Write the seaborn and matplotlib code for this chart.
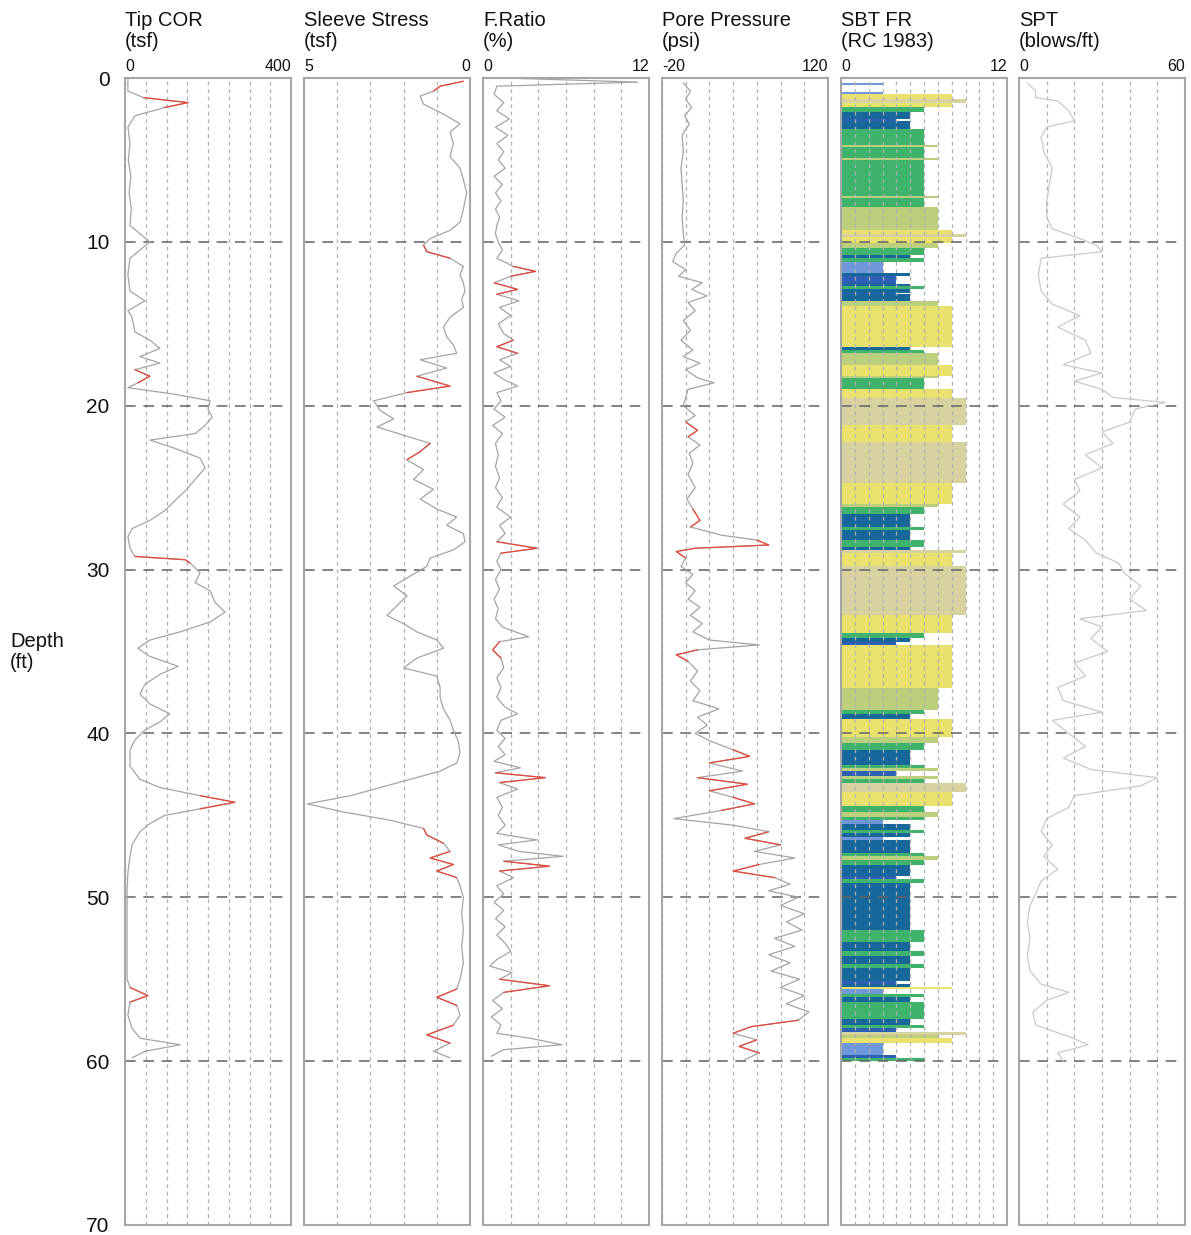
"""
CPT log: tip resistance, sleeve stress, friction ratio, pore pressure,
soil behaviour type (Robertson & Campanella 1983) and equivalent SPT N.
"""

import numpy as np
import pandas as pd
import matplotlib
matplotlib.use("Agg")
import matplotlib.pyplot as plt
import seaborn as sns

# ── Data (depth in ft) ────────────────────────────────────────────────────────
tip_depth = [0.0, 0.8, 1.2, 1.5, 1.8, 2.3, 3.0, 4.0, 5.0, 6.0, 7.0, 8.0, 9.0, 9.5,
             10.0, 10.5, 11.0, 12.0, 13.0, 13.6, 14.2, 14.6, 15.5, 16.0, 16.5, 17.0,
             17.4, 17.8, 18.2, 18.6, 18.9, 19.3, 19.7, 20.2, 20.7, 21.2, 21.7, 22.1,
             22.6, 23.2, 23.8, 24.5, 25.2, 25.8, 26.4, 27.0, 27.5, 28.0, 28.7, 29.2,
             29.4, 29.6, 30.2, 30.8, 31.3, 32.0, 32.6, 33.2, 33.8, 34.3, 34.8, 35.3,
             35.9, 36.4, 37.0, 37.6, 38.2, 38.8, 39.3, 39.8, 40.4, 41.0, 42.0, 42.8,
             43.3, 43.8, 44.2, 44.6, 45.0, 45.5, 46.0, 46.8, 47.5, 48.5, 49.5, 51.0,
             52.5, 54.0, 55.0, 55.5, 56.0, 56.4, 57.2, 58.0, 58.6, 59.0, 59.4, 59.8]
tip_q = [7, 7, 45, 152, 96, 24, 7, 12, 8, 14, 10, 15, 12, 36,
         60, 36, 12, 7, 12, 48, 7, 17, 24, 60, 84, 36,
         84, 24, 60, 31, 7, 120, 205, 200, 210, 193, 169, 60,
         120, 181, 193, 169, 145, 120, 96, 60, 17, 7, 12, 24,
         145, 157, 181, 169, 205, 217, 241, 205, 133, 60, 31, 60,
         128, 84, 48, 36, 60, 108, 84, 48, 24, 12, 12, 36,
         84, 181, 265, 181, 96, 60, 36, 17, 12, 7, 5, 5,
         5, 5, 5, 12, 55, 12, 7, 17, 36, 133, 48, 17]

fs_depth = [0.2, 0.5, 0.8, 1.1, 1.6, 2.2, 2.8, 3.3, 4.0, 4.8, 5.5, 6.2, 7.0, 8.0,
            8.8, 9.3, 9.8, 10.2, 10.6, 11.0, 11.5, 12.0, 12.5, 13.0, 13.5, 14.0,
            14.6, 15.2, 15.8, 16.3, 16.8, 17.2, 17.7, 18.2, 18.8, 19.2, 19.7, 20.3,
            20.8, 21.3, 21.8, 22.3, 22.8, 23.3, 23.9, 24.5, 25.1, 25.7, 26.3, 26.8,
            27.3, 27.8, 28.3, 28.8, 29.3, 29.8, 30.4, 31.0, 31.6, 32.2, 32.8, 33.3,
            33.8, 34.3, 34.8, 35.4, 36.0, 36.5, 37.2, 37.8, 38.5, 39.2, 39.8, 40.5,
            41.2, 41.8, 42.3, 42.8, 43.3, 43.8, 44.3, 44.8, 45.3, 45.8, 46.2, 46.7,
            47.2, 47.6, 48.0, 48.4, 48.8, 49.3, 50.0, 51.0, 52.0, 53.0, 54.0, 55.0,
            55.6, 56.1, 56.6, 57.2, 57.8, 58.4, 58.9, 59.4, 59.8]
fs_tsf = [0.2, 0.9, 1.1, 1.5, 1.4, 0.8, 0.3, 0.6, 0.5, 0.6, 0.3, 0.2, 0.1, 0.2,
          0.3, 0.6, 1.2, 1.4, 1.3, 0.6, 0.2, 0.3, 0.2, 0.15, 0.25, 0.2,
          0.6, 0.8, 0.7, 0.5, 0.4, 1.5, 0.7, 1.6, 0.6, 1.9, 2.9, 2.7,
          2.3, 2.8, 2.0, 1.2, 1.5, 1.9, 1.4, 1.7, 1.1, 1.5, 1.0, 0.4,
          0.7, 0.2, 0.15, 0.5, 1.2, 1.3, 1.8, 2.3, 1.9, 2.2, 2.5, 2.0,
          1.6, 1.0, 0.8, 1.6, 2.0, 1.0, 0.9, 0.9, 0.8, 0.6, 0.5, 0.35,
          0.3, 0.4, 0.9, 1.8, 2.7, 3.6, 4.9, 3.8, 2.4, 1.4, 1.3, 0.8,
          0.6, 1.2, 0.5, 1.0, 0.4, 0.3, 0.2, 0.25, 0.2, 0.25, 0.2, 0.3,
          0.4, 1.0, 0.4, 0.3, 0.5, 1.3, 0.6, 1.1, 0.6]

fr_depth = [0.0, 0.25, 0.5, 1.0, 1.5, 2.0, 2.5, 3.0, 3.5, 4.0, 4.5, 5.0, 5.5, 6.0,
            6.5, 7.0, 7.5, 8.0, 8.5, 9.0, 9.5, 10.0, 10.5, 11.0, 11.5, 11.8, 12.1,
            12.5, 12.9, 13.2, 13.6, 14.0, 14.5, 15.0, 15.6, 16.0, 16.4, 16.8, 17.2,
            17.6, 18.0, 18.4, 18.8, 19.2, 19.7, 20.2, 20.7, 21.2, 21.7, 22.3, 23.0,
            23.7, 24.4, 25.0, 25.6, 26.2, 26.8, 27.3, 27.8, 28.3, 28.7, 29.0, 29.5,
            30.0, 30.6, 31.2, 31.8, 32.4, 33.0, 33.5, 34.1, 34.4, 34.9, 35.4, 36.0,
            36.6, 37.2, 37.8, 38.4, 38.8, 39.2, 39.8, 40.3, 40.8, 41.3, 41.7, 42.1,
            42.4, 42.7, 43.0, 43.4, 43.9, 44.5, 45.0, 45.6, 46.1, 46.5, 46.8, 47.2,
            47.5, 47.8, 48.1, 48.4, 48.8, 49.3, 49.8, 50.3, 50.8, 51.3, 51.8, 52.3,
            52.8, 53.3, 53.8, 54.2, 54.6, 55.0, 55.4, 55.8, 56.3, 56.8, 57.3, 57.8,
            58.3, 58.6, 59.0, 59.3, 59.7]
fr_pct = [1.5, 11.2, 1.0, 0.8, 1.5, 1.0, 1.9, 0.9, 1.8, 1.0, 1.5, 1.1, 1.6, 0.8,
          1.4, 0.9, 1.3, 0.9, 1.2, 1.0, 0.9, 1.1, 1.4, 1.0, 2.2, 3.8, 2.0,
          0.8, 2.5, 1.0, 2.6, 1.2, 2.0, 1.1, 1.5, 2.2, 1.0, 2.5, 1.2,
          2.0, 0.8, 1.5, 2.5, 1.0, 1.3, 0.8, 1.6, 0.7, 1.4, 0.9, 1.1,
          0.9, 1.2, 0.9, 1.4, 1.0, 2.0, 1.2, 1.6, 1.0, 3.9, 1.3, 1.0,
          1.3, 0.9, 1.2, 0.8, 1.1, 0.9, 1.4, 3.3, 1.2, 0.7, 1.3, 1.5,
          1.0, 1.3, 1.0, 1.6, 2.5, 1.3, 1.0, 1.6, 1.1, 1.6, 0.8, 2.7,
          0.9, 4.5, 1.2, 2.5, 1.0, 1.4, 1.1, 1.6, 1.0, 3.9, 1.1, 2.6,
          5.8, 1.5, 4.8, 1.2, 2.2, 1.0, 1.5, 0.8, 1.5, 0.9, 1.6, 1.0,
          1.6, 2.0, 1.0, 0.5, 2.1, 1.2, 4.8, 1.5, 0.7, 1.4, 0.6, 1.3,
          1.0, 3.4, 5.7, 1.5, 0.6]

u_depth = [0.3, 0.8, 1.3, 1.8, 2.3, 2.8, 3.5, 4.5, 5.5, 6.5, 7.5, 8.5, 9.5, 10.2,
           10.7, 11.2, 11.7, 12.1, 12.5, 12.9, 13.3, 13.7, 14.2, 14.8, 15.4, 16.0,
           16.6, 17.0, 17.4, 17.8, 18.3, 18.6, 19.0, 19.5, 20.0, 20.6, 21.0, 21.5,
           21.9, 22.4, 22.9, 23.5, 24.2, 25.0, 25.7, 26.3, 27.0, 27.4, 27.9, 28.2,
           28.5, 28.7, 28.9, 29.3, 29.8, 30.3, 30.8, 31.3, 31.8, 32.3, 32.8, 33.3,
           33.8, 34.3, 34.6, 34.9, 35.2, 35.6, 36.2, 36.8, 37.4, 38.0, 38.5, 39.0,
           39.5, 40.0, 40.5, 41.0, 41.4, 41.8, 42.3, 42.7, 43.1, 43.5, 43.9, 44.3,
           44.7, 45.2, 45.6, 46.0, 46.4, 46.8, 47.2, 47.6, 48.0, 48.4, 48.8, 49.2,
           49.6, 50.0, 50.5, 51.0, 51.5, 52.0, 52.5, 53.0, 53.5, 54.0, 54.5, 55.0,
           55.5, 56.0, 56.5, 57.0, 57.5, 57.9, 58.3, 58.7, 59.1, 59.5, 59.9]
u_psi = [-2, 4, 0, 5, -1, 3, -3, -2, -4, -3, -2, -3, -2, -1,
         -8, -11, 0, -6, 14, 5, 18, 2, 8, -2, 4, -4,
         6, -2, 12, 0, 10, 24, 2, 0, -2, 8, 0, 10,
         2, 12, 3, 6, 2, 8, 1, 6, 12, 4, 30, 60,
         70, 8, -8, 0, -4, 6, 0, 8, 2, 12, 4, 14,
         6, 20, 62, 10, -8, 2, 10, 4, 12, 6, 28, 10,
         18, 8, 22, 40, 54, 20, 48, 10, 52, 20, 40, 58,
         30, -10, 40, 70, 50, 80, 58, 92, 62, 40, 75, 88,
         70, 95, 80, 100, 85, 98, 75, 92, 70, 88, 72, 96,
         80, 100, 85, 104, 95, 55, 40, 60, 45, 62, 50]

spt_depth = [0.3, 0.8, 1.2, 1.4, 2.0, 2.6, 3.0, 3.6, 4.5, 5.5, 6.5, 7.5, 8.5, 9.2,
             9.8, 10.2, 10.6, 11.0, 12.0, 13.0, 13.8, 14.5, 15.2, 16.0, 16.8, 17.5,
             18.0, 18.5, 19.0, 19.5, 19.8, 20.2, 21.0, 21.6, 22.3, 23.0, 23.8, 24.5,
             25.2, 26.0, 26.8, 27.5, 28.2, 29.0, 29.6, 30.2, 31.0, 31.8, 32.5, 33.0,
             33.5, 34.2, 35.0, 35.7, 36.5, 37.2, 38.0, 38.7, 39.2, 40.0, 40.8, 41.5,
             42.2, 42.7, 43.2, 43.8, 44.5, 45.2, 46.0, 46.8, 47.5, 48.3, 49.0, 49.8,
             50.5, 51.5, 52.5, 53.5, 54.5, 55.3, 55.8, 56.3, 57.0, 57.8, 58.5, 59.0,
             59.5, 60.0]
spt_n = [3, 6, 6, 14, 18, 20, 10, 8, 9, 12, 11, 10, 10, 12,
         22, 28, 30, 8, 7, 8, 12, 22, 14, 24, 26, 16,
         30, 20, 30, 34, 53, 42, 40, 30, 34, 24, 30, 20,
         22, 16, 22, 18, 24, 28, 36, 38, 44, 40, 46, 22,
         30, 26, 32, 20, 24, 14, 16, 30, 12, 18, 24, 16,
         26, 50, 44, 20, 18, 10, 8, 12, 9, 14, 8, 6,
         4, 3, 4, 3, 4, 8, 18, 10, 5, 6, 18, 25,
         14, 16]

# SBT layers: top of each layer (base = next top, last base 60 ft) and zone number
sbt_top = [0.30, 0.40, 0.85, 0.95, 1.30, 1.50, 1.80, 2.10, 2.50, 2.60,
           3.10, 4.10, 4.20, 4.90, 5.00, 7.20, 7.30, 7.90, 9.30, 9.50,
           9.70, 10.10, 10.40, 10.80, 11.00, 11.20, 11.90, 12.10, 12.60, 12.70,
           12.90, 13.10, 13.20, 13.60, 13.90, 16.40, 16.60, 16.80, 17.50, 18.20,
           18.30, 19.00, 19.50, 21.20, 22.20, 24.70, 26.00, 26.20, 26.60, 27.40,
           27.60, 28.20, 28.60, 28.80, 29.00, 29.80, 32.80, 33.90, 34.20, 34.40,
           34.60, 37.20, 38.60, 38.80, 39.10, 40.20, 40.60, 41.00, 41.90, 42.10,
           42.30, 42.60, 42.80, 43.00, 43.60, 44.40, 44.80, 45.10, 45.30, 45.50,
           45.90, 46.10, 46.30, 46.50, 47.30, 47.50, 47.70, 48.00, 48.70, 48.90,
           49.10, 52.00, 52.70, 53.30, 53.60, 54.10, 54.30, 55.10, 55.30, 55.50,
           55.60, 55.90, 56.10, 56.40, 57.40, 57.80, 58.00, 58.20, 58.40, 58.60,
           58.90, 59.60, 59.80]
sbt_zone = [3, 0, 3, 8, 9, 8, 6, 5, 4, 5,
            6, 7, 6, 7, 6, 7, 6, 7, 8, 9,
            8, 7, 6, 5, 6, 3, 5, 4, 5, 6,
            5, 4, 5, 7, 8, 5, 6, 7, 8, 7,
            6, 8, 9, 8, 9, 8, 7, 6, 5, 6,
            5, 6, 5, 9, 8, 9, 8, 6, 5, 4,
            8, 7, 6, 5, 8, 7, 6, 5, 6, 7,
            4, 7, 6, 9, 8, 6, 7, 6, 3, 5,
            6, 5, 3, 5, 6, 7, 6, 5, 4, 6,
            5, 6, 5, 6, 5, 6, 5, 4, 5, 8,
            3, 6, 5, 6, 5, 6, 4, 9, 7, 8,
            3, 4, 6]
SBT_BASE = 60.0

# depth ranges where the trace is drawn in red
tip_red = [(1.2, 1.8), (17.8, 18.6), (29.2, 29.6), (43.8, 44.6), (55.5, 56.4)]
fs_red = [(0.2, 0.8), (10.2, 11.0), (18.2, 19.2), (22.3, 23.3), (45.8, 46.7),
          (47.2, 48.0), (48.0, 48.8), (55.6, 56.6), (57.8, 58.9)]
fr_red = [(11.5, 12.1), (12.5, 13.2), (16.0, 16.8), (28.3, 29.0), (34.4, 35.4),
          (42.4, 43.0), (47.8, 48.4), (55.0, 55.8)]
u_red = [(21.0, 21.9), (26.3, 27.4), (28.2, 28.7), (28.7, 29.3), (34.9, 35.6),
         (41.0, 41.8), (42.7, 43.5), (43.9, 44.7), (46.0, 46.8), (48.0, 48.8),
         (57.5, 58.3), (58.7, 59.5)]

# ── Style ─────────────────────────────────────────────────────────────────────
W, H = 1191, 1235
PANEL_LEFT = [125, 304, 483, 662, 841, 1019]
PANEL_W = 166
TOP, BOTTOM = 78, 1225

TRACE_COLOR = "#a4a4a4"
RED = "#e5483a"
ZONE_COLORS = {0: "none", 3: "#7097da", 4: "#2d5fb4", 5: "#17679b",
               6: "#3fb36c", 7: "#bccf7d", 8: "#e9e26f", 9: "#d7d2a0"}

sns.set_theme(style="white")
plt.rcParams["font.family"] = ["Liberation Sans", "DejaVu Sans"]

panels = [
    dict(title="Tip COR\n(tsf)", lim=(0, 400), step=50, labels=("0", "400")),
    dict(title="Sleeve Stress\n(tsf)", lim=(5, 0), step=1, labels=("5", "0")),
    dict(title="F.Ratio\n(%)", lim=(0, 12), step=2, labels=("0", "12")),
    dict(title="Pore Pressure\n(psi)", lim=(-20, 120), step=20, labels=("-20", "120")),
    dict(title="SBT FR\n(RC 1983)", lim=(0, 12), step=1, labels=("0", "12")),
    dict(title="SPT\n(blows/ft)", lim=(0, 60), step=10, labels=("0", "60")),
]

traces = [
    (pd.DataFrame({"depth": tip_depth, "val": tip_q}), tip_red),
    (pd.DataFrame({"depth": fs_depth, "val": fs_tsf}), fs_red),
    (pd.DataFrame({"depth": fr_depth, "val": fr_pct}), fr_red),
    (pd.DataFrame({"depth": u_depth, "val": u_psi}), u_red),
    None,
    (pd.DataFrame({"depth": spt_depth, "val": spt_n}), []),
]

fig = plt.figure(figsize=(W / 100, H / 100), dpi=100)

for i, (p, tr) in enumerate(zip(panels, traces)):
    ax = fig.add_axes([PANEL_LEFT[i] / W, 1 - BOTTOM / H,
                       PANEL_W / W, (BOTTOM - TOP) / H])
    lo, hi = min(p["lim"]), max(p["lim"])

    if tr is not None:
        df, red = tr
        color = "#c9c9c9" if i == 5 else TRACE_COLOR
        sns.lineplot(data=df, x="val", y="depth", orient="y", sort=False,
                     estimator=None, color=color, lw=0.9, ax=ax)
        for d0, d1 in red:
            seg = df[(df["depth"] >= d0) & (df["depth"] <= d1)]
            sns.lineplot(data=seg, x="val", y="depth", orient="y", sort=False,
                         estimator=None, color=RED, lw=0.9, ax=ax)
    else:
        base = sbt_top[1:] + [SBT_BASE]
        ax.barh(sbt_top, sbt_zone, height=np.subtract(base, sbt_top),
                align="edge", color=[ZONE_COLORS[z] for z in sbt_zone],
                lw=0, zorder=1)
        ax.set_axisbelow(False)

    ax.set_xlim(*p["lim"])
    ax.set_ylim(70, 0)
    ax.set_xlabel("")
    ax.set_ylabel("")

    ticks = np.arange(lo, hi + p["step"] / 2, p["step"])
    ax.set_xticks(ticks)
    lab = {p["lim"][0]: p["labels"][0], p["lim"][1]: p["labels"][1]}
    ax.set_xticklabels([lab.get(t, "") for t in ticks])
    ax.xaxis.tick_top()
    ax.tick_params(axis="x", length=0, pad=3, labelsize=11.5, colors="#111111")
    for t, tl in zip(ticks, ax.get_xticklabels()):
        if t == p["lim"][0]:
            tl.set_ha("left")
        elif t == p["lim"][1]:
            tl.set_ha("right")

    ax.set_yticks(range(0, 71, 10))
    if i == 0:
        ax.tick_params(axis="y", length=0, pad=11, labelsize=15, colors="#111111")
    else:
        ax.tick_params(axis="y", length=0, labelleft=False)

    ax.grid(axis="x", color="#b0b0b0", ls=(0, (3, 3)), lw=0.9)
    ax.grid(axis="y", color="#626262", ls=(0, (7, 5)), lw=1.1)

    for s in ax.spines.values():
        s.set_color("#a6a6a6")
        s.set_linewidth(1.5)
        s.set_zorder(5)

    fig.text(PANEL_LEFT[i] / W, 1 - 51 / H, p["title"], ha="left", va="bottom",
             fontsize=14.5, linespacing=1.1, color="#111111")

fig.text(10 / W, 1 - 652 / H, "Depth\n(ft)", ha="left", va="center",
         fontsize=14.5, linespacing=1.1, color="#111111")

fig.savefig("out.png", dpi=100)
